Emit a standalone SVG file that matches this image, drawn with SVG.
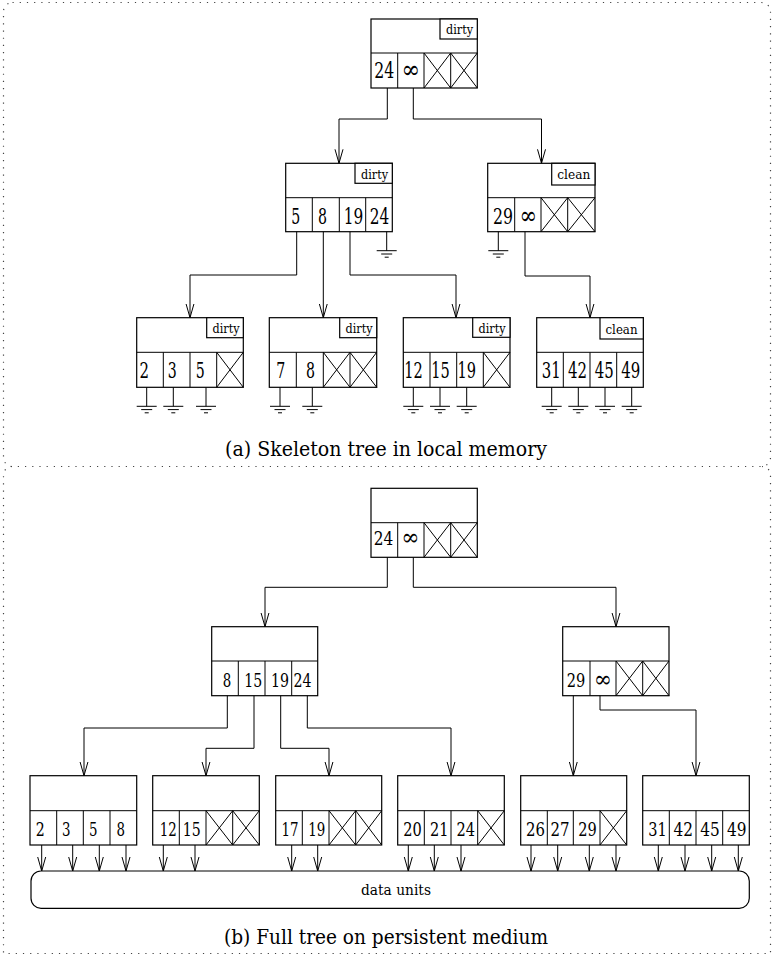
<svg xmlns="http://www.w3.org/2000/svg" width="773" height="955" viewBox="0 0 773 955">
<style>
  .box { fill: #fff; stroke: #000; stroke-width: 1.2; }
  .ln { fill: none; stroke: #000; stroke-width: 1; }
  .wire { fill: none; stroke: #000; stroke-width: 1; }
  text { font-family: "DejaVu Serif", "Liberation Serif", serif; fill: #000; }
  .num { font-size: 22px; text-anchor: middle; }
  .numb { font-size: 19px; text-anchor: middle; }
  .inf { font-size: 25px; text-anchor: middle; }
  .infb { font-size: 23px; text-anchor: middle; }
  .tag { font-size: 12px; }
  .cap { font-size: 20px; text-anchor: middle; }
  .du { font-size: 15px; text-anchor: middle; }
  .frame { fill: none; stroke: #444; stroke-width: 1.2; stroke-dasharray: 1.2 6; }
</style>
<defs>
  <marker id="arr" viewBox="0 0 14 10" refX="14" refY="5" markerWidth="14" markerHeight="10" markerUnits="userSpaceOnUse" orient="auto">
    <path d="M0,1 L14,5 L0,9" fill="none" stroke="#000" stroke-width="1"/>
  </marker>
  <g id="gnd">
    <path d="M0,0 V19 M-10,19 H10 M-5.5,22.3 H5.5 M-2,25.5 H2" fill="none" stroke="#000" stroke-width="1"/>
  </g>
</defs>

<!-- dotted frames -->
<rect class="frame" x="3.5" y="2.5" width="767" height="464" rx="9"/>
<path class="frame" d="M12,466.5 A8.5,8.5 0 0 0 3.5,475 V953.5 H770.5 V475 A8.5,8.5 0 0 0 762,466.5"/>

<!-- ===== (a) skeleton tree ===== -->
<g id="a-root">
  <rect class="box" x="371" y="19" width="106.3" height="69"/>
  <path class="ln" d="M371,53 H477.3 M397.7,53 V88 M424,53 V88 M450.7,53 V88 M424,53 L450.7,88 M424,88 L450.7,53 M450.7,53 L477.3,88 M450.7,88 L477.3,53"/>
  <rect class="box" x="440" y="19" width="37.3" height="20"/>
  <text class="tag" x="446" y="34.3" textLength="27" lengthAdjust="spacingAndGlyphs">dirty</text>
  <text class="num" x="384.2" y="78.3" textLength="20" lengthAdjust="spacingAndGlyphs">24</text>
  <text class="inf" x="410.8" y="78.3" textLength="18.5" lengthAdjust="spacingAndGlyphs">∞</text>
</g>

<g id="a-mid-left">
  <rect class="box" x="285.7" y="163.3" width="106.6" height="68.4"/>
  <path class="ln" d="M285.7,197.7 H392.3 M312.3,197.7 V231.7 M339.3,197.7 V231.7 M365.7,197.7 V231.7"/>
  <rect class="box" x="355" y="163.3" width="37.3" height="20"/>
  <text class="tag" x="361" y="178.6" textLength="27" lengthAdjust="spacingAndGlyphs">dirty</text>
  <text class="num" x="295.8" y="224.3" textLength="9" lengthAdjust="spacingAndGlyphs">5</text>
  <text class="num" x="322.5" y="224.3" textLength="9" lengthAdjust="spacingAndGlyphs">8</text>
  <text class="num" x="353.5" y="224.3" textLength="19.5" lengthAdjust="spacingAndGlyphs">19</text>
  <text class="num" x="379.5" y="224.3" textLength="19.5" lengthAdjust="spacingAndGlyphs">24</text>
</g>

<g id="a-mid-right">
  <rect class="box" x="487.7" y="163.3" width="107.3" height="68.4"/>
  <path class="ln" d="M487.7,197.7 H595 M514.7,197.7 V231.7 M541,197.7 V231.7 M567.7,197.7 V231.7 M541,197.7 L567.7,231.7 M541,231.7 L567.7,197.7 M567.7,197.7 L595,231.7 M567.7,231.7 L595,197.7"/>
  <rect class="box" x="551.7" y="163.3" width="43.3" height="21.7"/>
  <text class="tag" x="557.3" y="179.3" textLength="33" lengthAdjust="spacingAndGlyphs">clean</text>
  <text class="num" x="503" y="224.3" textLength="20" lengthAdjust="spacingAndGlyphs">29</text>
  <text class="inf" x="528.3" y="224.3" textLength="17.5" lengthAdjust="spacingAndGlyphs">∞</text>
</g>

<g id="a-leaf-1">
  <rect class="box" x="136.7" y="317.7" width="106.6" height="69.6"/>
  <path class="ln" d="M136.7,352.3 H243.3 M163.3,352.3 V387.3 M190,352.3 V387.3 M216.7,352.3 V387.3 M216.7,352.3 L243.3,387.3 M216.7,387.3 L243.3,352.3"/>
  <rect class="box" x="206.7" y="317.7" width="36.6" height="20"/>
  <text class="tag" x="212.5" y="333" textLength="27" lengthAdjust="spacingAndGlyphs">dirty</text>
  <text class="num" x="144.3" y="378.3" textLength="9.5" lengthAdjust="spacingAndGlyphs">2</text>
  <text class="num" x="172.3" y="378.3" textLength="9" lengthAdjust="spacingAndGlyphs">3</text>
  <text class="num" x="200.3" y="378.3" textLength="9" lengthAdjust="spacingAndGlyphs">5</text>
</g>

<g id="a-leaf-2">
  <rect class="box" x="269.3" y="317.7" width="107.4" height="69.6"/>
  <path class="ln" d="M269.3,352.3 H376.7 M296.3,352.3 V387.3 M323.3,352.3 V387.3 M350,352.3 V387.3 M323.3,352.3 L350,387.3 M323.3,387.3 L350,352.3 M350,352.3 L376.7,387.3 M350,387.3 L376.7,352.3"/>
  <rect class="box" x="339.7" y="317.7" width="37" height="20"/>
  <text class="tag" x="345.5" y="333" textLength="27" lengthAdjust="spacingAndGlyphs">dirty</text>
  <text class="num" x="280.8" y="378.3" textLength="9" lengthAdjust="spacingAndGlyphs">7</text>
  <text class="num" x="310.5" y="378.3" textLength="9" lengthAdjust="spacingAndGlyphs">8</text>
</g>

<g id="a-leaf-3">
  <rect class="box" x="403.3" y="317.7" width="106.7" height="69.6"/>
  <path class="ln" d="M403.3,352.3 H510 M430,352.3 V387.3 M456.7,352.3 V387.3 M483.3,352.3 V387.3 M483.3,352.3 L510,387.3 M483.3,387.3 L510,352.3"/>
  <rect class="box" x="472.7" y="317.7" width="37.3" height="19.6"/>
  <text class="tag" x="478.5" y="332.8" textLength="27" lengthAdjust="spacingAndGlyphs">dirty</text>
  <text class="num" x="413.5" y="378.3" textLength="18.5" lengthAdjust="spacingAndGlyphs">12</text>
  <text class="num" x="440.5" y="378.3" textLength="18.5" lengthAdjust="spacingAndGlyphs">15</text>
  <text class="num" x="466.8" y="378.3" textLength="18.5" lengthAdjust="spacingAndGlyphs">19</text>
</g>

<g id="a-leaf-4">
  <rect class="box" x="536.7" y="317.7" width="106.6" height="69.6"/>
  <path class="ln" d="M536.7,352.3 H643.3 M563.3,352.3 V387.3 M590,352.3 V387.3 M616.7,352.3 V387.3"/>
  <rect class="box" x="600" y="317.7" width="43.3" height="21.3"/>
  <text class="tag" x="605.5" y="333.5" textLength="32" lengthAdjust="spacingAndGlyphs">clean</text>
  <text class="num" x="551.2" y="378.3" textLength="19" lengthAdjust="spacingAndGlyphs">31</text>
  <text class="num" x="577.5" y="378.3" textLength="19" lengthAdjust="spacingAndGlyphs">42</text>
  <text class="num" x="604.2" y="378.3" textLength="19" lengthAdjust="spacingAndGlyphs">45</text>
  <text class="num" x="630.8" y="378.3" textLength="19" lengthAdjust="spacingAndGlyphs">49</text>
</g>

<!-- ground (nil) pointers of the skeleton tree -->
<g id="a-grounds">
  <use href="#gnd" x="386.7" y="231.7"/>
  <use href="#gnd" x="498.3" y="231.7"/>
  <use href="#gnd" x="146.7" y="387.3"/>
  <use href="#gnd" x="173.3" y="387.3"/>
  <use href="#gnd" x="206" y="387.3"/>
  <use href="#gnd" x="280" y="387.3"/>
  <use href="#gnd" x="312.3" y="387.3"/>
  <use href="#gnd" x="413.3" y="387.3"/>
  <use href="#gnd" x="440" y="387.3"/>
  <use href="#gnd" x="466.7" y="387.3"/>
  <use href="#gnd" x="551.7" y="387.3"/>
  <use href="#gnd" x="578.3" y="387.3"/>
  <use href="#gnd" x="605" y="387.3"/>
  <use href="#gnd" x="631.7" y="387.3"/>
</g>

<g id="a-connectors">
  <path class="wire" marker-end="url(#arr)" d="M387.3,88 V119 H339 V163.3"/>
  <path class="wire" marker-end="url(#arr)" d="M413.3,88 V119 H541.5 V163.3"/>
  <path class="wire" marker-end="url(#arr)" d="M296.7,231.7 V275 H190 V317.7"/>
  <path class="wire" marker-end="url(#arr)" d="M323.3,231.7 V317.7"/>
  <path class="wire" marker-end="url(#arr)" d="M350,231.7 V275 H456 V317.7"/>
  <path class="wire" marker-end="url(#arr)" d="M525,231.7 V276 H590 V317.7"/>
</g>

<text class="cap" x="386" y="456" textLength="322" lengthAdjust="spacingAndGlyphs">(a) Skeleton tree in local memory</text>

<!-- ===== (b) full tree ===== -->
<g id="b-root">
  <rect class="box" x="371" y="488.3" width="106.3" height="69"/>
  <path class="ln" d="M371,522.7 H477.3 M397.7,522.7 V557.3 M424,522.7 V557.3 M450.7,522.7 V557.3 M424,522.7 L450.7,557.3 M424,557.3 L450.7,522.7 M450.7,522.7 L477.3,557.3 M450.7,557.3 L477.3,522.7"/>
  <text class="numb" x="383.5" y="545" textLength="19.5" lengthAdjust="spacingAndGlyphs">24</text>
  <text class="infb" x="410.5" y="545" textLength="18" lengthAdjust="spacingAndGlyphs">∞</text>
</g>

<g id="b-mid-left">
  <rect class="box" x="211.7" y="626.7" width="106" height="69"/>
  <path class="ln" d="M211.7,661 H317.7 M238.3,661 V695.7 M265,661 V695.7 M291.7,661 V695.7"/>
  <text class="numb" x="227" y="686.7" textLength="8.5" lengthAdjust="spacingAndGlyphs">8</text>
  <text class="numb" x="253.3" y="686.7" textLength="18" lengthAdjust="spacingAndGlyphs">15</text>
  <text class="numb" x="280" y="686.7" textLength="18" lengthAdjust="spacingAndGlyphs">19</text>
  <text class="numb" x="302.5" y="686.7" textLength="18" lengthAdjust="spacingAndGlyphs">24</text>
</g>

<g id="b-mid-right">
  <rect class="box" x="562.7" y="626.7" width="106.3" height="69"/>
  <path class="ln" d="M562.7,661 H669 M590,661 V695.7 M616,661 V695.7 M642.7,661 V695.7 M616,661 L642.7,695.7 M616,695.7 L642.7,661 M642.7,661 L669,695.7 M642.7,695.7 L669,661"/>
  <text class="numb" x="576" y="686.7" textLength="18.5" lengthAdjust="spacingAndGlyphs">29</text>
  <text class="infb" x="603" y="686.7" textLength="18" lengthAdjust="spacingAndGlyphs">∞</text>
</g>

<g id="b-leaf-1">
  <rect class="box" x="30" y="775.7" width="106.7" height="69.3"/>
  <path class="ln" d="M30,810.7 H136.7 M56.7,810.7 V845 M83.3,810.7 V845 M110,810.7 V845"/>
  <text class="numb" x="40.3" y="835.7" textLength="9" lengthAdjust="spacingAndGlyphs">2</text>
  <text class="numb" x="66.2" y="835.7" textLength="8.5" lengthAdjust="spacingAndGlyphs">3</text>
  <text class="numb" x="93.2" y="835.7" textLength="8.5" lengthAdjust="spacingAndGlyphs">5</text>
  <text class="numb" x="120.8" y="835.7" textLength="8.5" lengthAdjust="spacingAndGlyphs">8</text>
</g>

<g id="b-leaf-2">
  <rect class="box" x="152.7" y="775.7" width="106.6" height="69.3"/>
  <path class="ln" d="M152.7,810.7 H259.3 M179.3,810.7 V845 M206,810.7 V845 M232.7,810.7 V845 M206,810.7 L232.7,845 M206,845 L232.7,810.7 M232.7,810.7 L259.3,845 M232.7,845 L259.3,810.7"/>
  <text class="numb" x="168.3" y="835.7" textLength="17" lengthAdjust="spacingAndGlyphs">12</text>
  <text class="numb" x="191.7" y="835.7" textLength="18" lengthAdjust="spacingAndGlyphs">15</text>
</g>

<g id="b-leaf-3">
  <rect class="box" x="275.7" y="775.7" width="106" height="69.3"/>
  <path class="ln" d="M275.7,810.7 H381.7 M302.3,810.7 V845 M329,810.7 V845 M355.7,810.7 V845 M329,810.7 L355.7,845 M329,845 L355.7,810.7 M355.7,810.7 L381.7,845 M355.7,845 L381.7,810.7"/>
  <text class="numb" x="290" y="835.7" textLength="17" lengthAdjust="spacingAndGlyphs">17</text>
  <text class="numb" x="316.7" y="835.7" textLength="17" lengthAdjust="spacingAndGlyphs">19</text>
</g>

<g id="b-leaf-4">
  <rect class="box" x="397.7" y="775.7" width="106.6" height="69.3"/>
  <path class="ln" d="M397.7,810.7 H504.3 M424.3,810.7 V845 M451,810.7 V845 M477.7,810.7 V845 M477.7,810.7 L504.3,845 M477.7,845 L504.3,810.7"/>
  <text class="numb" x="412.5" y="835.7" textLength="18.5" lengthAdjust="spacingAndGlyphs">20</text>
  <text class="numb" x="439.2" y="835.7" textLength="18.5" lengthAdjust="spacingAndGlyphs">21</text>
  <text class="numb" x="465.8" y="835.7" textLength="18.5" lengthAdjust="spacingAndGlyphs">24</text>
</g>

<g id="b-leaf-5">
  <rect class="box" x="520.7" y="775.7" width="106" height="69.3"/>
  <path class="ln" d="M520.7,810.7 H626.7 M547.3,810.7 V845 M573.3,810.7 V845 M600,810.7 V845 M600,810.7 L626.7,845 M600,845 L626.7,810.7"/>
  <text class="numb" x="535.5" y="835.7" textLength="19" lengthAdjust="spacingAndGlyphs">26</text>
  <text class="numb" x="560" y="835.7" textLength="19" lengthAdjust="spacingAndGlyphs">27</text>
  <text class="numb" x="587.5" y="835.7" textLength="18.5" lengthAdjust="spacingAndGlyphs">29</text>
</g>

<g id="b-leaf-6">
  <rect class="box" x="642.7" y="775.7" width="106.6" height="69.3"/>
  <path class="ln" d="M642.7,810.7 H749.3 M669.3,810.7 V845 M696,810.7 V845 M722.7,810.7 V845"/>
  <text class="numb" x="657.5" y="835.7" textLength="18.5" lengthAdjust="spacingAndGlyphs">31</text>
  <text class="numb" x="683.3" y="835.7" textLength="19.5" lengthAdjust="spacingAndGlyphs">42</text>
  <text class="numb" x="710" y="835.7" textLength="19.5" lengthAdjust="spacingAndGlyphs">45</text>
  <text class="numb" x="736.7" y="835.7" textLength="19.5" lengthAdjust="spacingAndGlyphs">49</text>
</g>

<g id="data-units">
  <rect class="box" x="31" y="871" width="718.3" height="37.3" rx="10"/>
  <text class="du" x="396" y="894.5" textLength="70" lengthAdjust="spacingAndGlyphs">data units</text>
</g>

<g id="b-connectors">
  <path class="wire" marker-end="url(#arr)" d="M387.3,557.3 V587.3 H265 V626.7"/>
  <path class="wire" marker-end="url(#arr)" d="M413.3,557.3 V587.3 H616 V626.7"/>
  <path class="wire" marker-end="url(#arr)" d="M227.3,695.7 V728 H84 V775.7"/>
  <path class="wire" marker-end="url(#arr)" d="M254,695.7 V748.3 H206 V775.7"/>
  <path class="wire" marker-end="url(#arr)" d="M280.7,695.7 V748.3 H329 V775.7"/>
  <path class="wire" marker-end="url(#arr)" d="M307.3,695.7 V728 H451 V775.7"/>
  <path class="wire" marker-end="url(#arr)" d="M573.3,695.7 V775.7"/>
  <path class="wire" marker-end="url(#arr)" d="M600,695.7 V710 H696 V775.7"/>
  <!-- leaf entries pointing into the data units -->
  <path class="wire" marker-end="url(#arr)" d="M41.7,845 V871"/>
  <path class="wire" marker-end="url(#arr)" d="M72.7,845 V871"/>
  <path class="wire" marker-end="url(#arr)" d="M99.3,845 V871"/>
  <path class="wire" marker-end="url(#arr)" d="M126,845 V871"/>
  <path class="wire" marker-end="url(#arr)" d="M163.3,845 V871"/>
  <path class="wire" marker-end="url(#arr)" d="M195,845 V871"/>
  <path class="wire" marker-end="url(#arr)" d="M291.7,845 V871"/>
  <path class="wire" marker-end="url(#arr)" d="M317.7,845 V871"/>
  <path class="wire" marker-end="url(#arr)" d="M408.3,845 V871"/>
  <path class="wire" marker-end="url(#arr)" d="M434.3,845 V871"/>
  <path class="wire" marker-end="url(#arr)" d="M461,845 V871"/>
  <path class="wire" marker-end="url(#arr)" d="M531,845 V871"/>
  <path class="wire" marker-end="url(#arr)" d="M557.7,845 V871"/>
  <path class="wire" marker-end="url(#arr)" d="M589.3,845 V871"/>
  <path class="wire" marker-end="url(#arr)" d="M616,845 V871"/>
  <path class="wire" marker-end="url(#arr)" d="M658.3,845 V871"/>
  <path class="wire" marker-end="url(#arr)" d="M685,845 V871"/>
  <path class="wire" marker-end="url(#arr)" d="M711.7,845 V871"/>
  <path class="wire" marker-end="url(#arr)" d="M738.3,845 V871"/>
</g>

<text class="cap" x="386" y="944" textLength="324" lengthAdjust="spacingAndGlyphs">(b) Full tree on persistent medium</text>
</svg>
